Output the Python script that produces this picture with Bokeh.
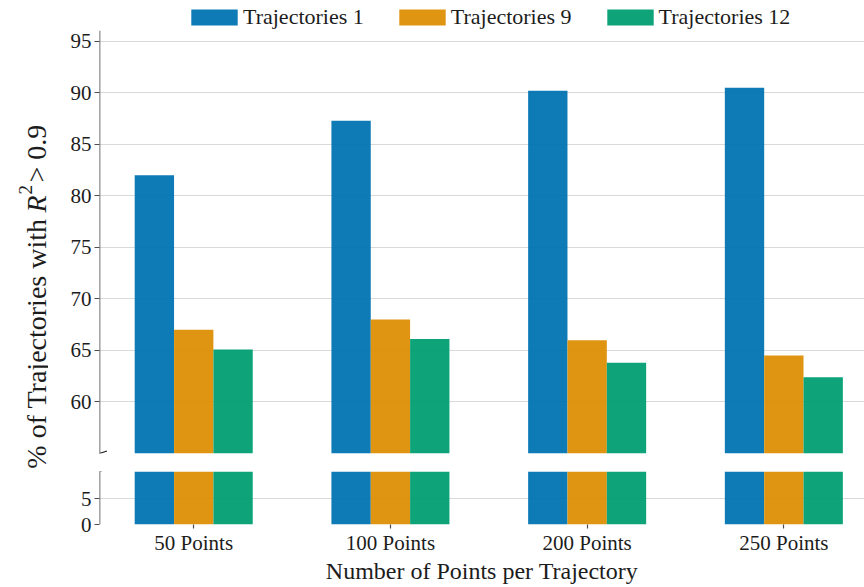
import math
from bokeh.plotting import figure
from bokeh.models import (ColumnDataSource, Range1d, FixedTicker, Legend, LegendItem,
                          Arrow, Label, Span)
from bokeh.layouts import row, column
from bokeh.transform import dodge
from bokeh.embed import file_html
from bokeh.resources import INLINE

# ---------------- data ----------------
categories = ["50 Points", "100 Points", "200 Points", "250 Points"]
series_names = ["Trajectories 1", "Trajectories 9", "Trajectories 12"]
traj1 = [82.0, 87.3, 90.2, 90.5]
traj9 = [67.0, 68.0, 66.0, 64.5]
traj12 = [65.1, 66.1, 63.8, 62.4]
top_ticks = [60, 65, 70, 75, 80, 85, 90, 95]
bottom_ticks = [0, 5]
x_title = "Number of Points per Trajectory"

# ---------------- style ----------------
colors = ["#0173B2", "#DE8F05", "#029E73"]
FONT = "Liberation Serif"
TXT = "#1c1c1c"
GRID = "#d9d9d9"
SPINE = "#4d4d4d"

x_lo, x_hi = -0.479, 3.41
top_lo, top_hi = 55, 96.05
bot_lo, bot_hi = 0, 10.25
offsets = [-0.2, 0.0, 0.2]
bar_w = 0.2

src = ColumnDataSource(dict(x=list(range(len(categories))), t1=traj1, t9=traj9, t12=traj12))
cols = ["t1", "t9", "t12"]

LAB_W = 48
MAIN_W = 816
LEFT = 51
LEG_H = 30
TOP_FRAME = 423
TOP_H = TOP_FRAME + 9
BOT_FRAME = 53
BODY_H = 587 - LEG_H


def bare(width, height, xr, yr):
    f = figure(width=width, height=height, x_range=xr, y_range=yr,
               x_axis_location=None, y_axis_location=None, title_location=None,
               output_backend="svg", toolbar_location=None, min_border=0)
    f.outline_line_color = None
    f.grid.visible = False
    f.background_fill_color = "white"
    f.border_fill_color = "white"
    return f


def base_style(p):
    p.outline_line_color = None
    p.background_fill_color = "white"
    p.border_fill_color = "white"
    p.xgrid.visible = False
    p.ygrid.grid_line_color = GRID
    p.ygrid.grid_line_width = 1.2
    ax = p.yaxis[0]
    ax.axis_line_color = None          # spine drawn as a Span limited to the frame
    ax.major_tick_line_color = SPINE
    ax.major_tick_line_width = 1.2
    ax.major_tick_out = 5
    ax.major_tick_in = 0
    ax.minor_tick_line_color = None
    ax.major_label_text_font = FONT
    ax.major_label_text_font_size = "21px"
    ax.major_label_text_color = TXT
    ax.major_label_standoff = 3
    p.add_layout(Span(location=x_lo, dimension="height", line_color=SPINE, line_width=1.6))


def add_bars(p):
    out = []
    for c, off, colr in zip(cols, offsets, colors):
        out.append(p.vbar(x=dodge("x", off), top=c, bottom=0, width=bar_w, source=src,
                          fill_color=colr, fill_alpha=0.95, line_color=None))
    return out


# ---------------- legend strip (full width, above everything) ----------------
pleg = bare(LAB_W + MAIN_W, LEG_H, Range1d(10, 11), Range1d(200, 201))
leg_renderers = add_bars(pleg)   # same bars, outside the strip's ranges: they only feed the legend
legend = Legend(items=[LegendItem(label=n, renderers=[r]) for n, r in zip(series_names, leg_renderers)],
                orientation="horizontal", location=(185, 0),
                glyph_width=58, glyph_height=20, label_standoff=-4, spacing=29,
                padding=0, margin=0, border_line_color=None, background_fill_alpha=0,
                label_text_font=FONT, label_text_font_size="22px", label_text_color=TXT,
                label_height=26)
pleg.add_layout(legend, "center")

# ---------------- top panel ----------------
p1 = figure(width=MAIN_W, height=TOP_H, x_range=Range1d(x_lo, x_hi),
            y_range=Range1d(top_lo, top_hi), x_axis_location=None, title_location=None,
            output_backend="svg", toolbar_location=None,
            min_border_left=LEFT, min_border_right=0, min_border_top=0, min_border_bottom=9)
base_style(p1)
p1.yaxis.ticker = FixedTicker(ticks=top_ticks)
add_bars(p1)

# ---------------- bottom panel ----------------
p2 = figure(width=MAIN_W, frame_height=BOT_FRAME, x_range=p1.x_range,
            y_range=Range1d(bot_lo, bot_hi), title_location=None,
            output_backend="svg", toolbar_location=None,
            min_border_left=LEFT, min_border_right=0, min_border_top=9,
            min_border_bottom=0)
base_style(p2)
p2.yaxis.ticker = FixedTicker(ticks=bottom_ticks)
add_bars(p2)

xa = p2.xaxis[0]
xa.ticker = FixedTicker(ticks=list(range(len(categories))))
xa.major_label_overrides = {i: c for i, c in enumerate(categories)}
xa.axis_line_color = None
xa.major_tick_line_color = SPINE
xa.major_tick_line_width = 1.2
xa.major_tick_out = 4
xa.major_tick_in = 0
xa.minor_tick_line_color = None
xa.major_label_text_font = FONT
xa.major_label_text_font_size = "21px"
xa.major_label_text_color = TXT
xa.major_label_standoff = 2
xa.axis_label = x_title
xa.axis_label_text_font = FONT
xa.axis_label_text_font_size = "24px"
xa.axis_label_text_font_style = "normal"
xa.axis_label_text_color = TXT
xa.axis_label_standoff = 0

# ---------------- break marks ----------------
dx = 7.5 / (765 / (x_hi - x_lo))
dy_top = 2.5 / (TOP_FRAME / (top_hi - top_lo))
dy_bot = 2.5 / (BOT_FRAME / (bot_hi - bot_lo))
p1.add_layout(Arrow(start=None, end=None, x_start=x_lo - dx, y_start=top_lo - dy_top,
                    x_end=x_lo + dx, y_end=top_lo + dy_top, line_color="#222222", line_width=1.2))
p2.add_layout(Arrow(start=None, end=None, x_start=x_lo - dx, y_start=bot_hi - dy_bot,
                    x_end=x_lo + dx, y_end=bot_hi + dy_bot, line_color="#222222", line_width=1.2))

# ---------------- y label (spans both panels) ----------------
pl = bare(LAB_W, BODY_H, Range1d(0, LAB_W), Range1d(0, BODY_H))
ang = math.pi / 2
bx = 36
ysz = "28px"
pl.add_layout(Label(x=bx, y=587 - 218, text="% of Trajectories with", angle=ang,
                    text_align="right", text_baseline="alphabetic", text_font=FONT,
                    text_font_size=ysz, text_color=TXT))
pl.add_layout(Label(x=bx, y=587 - 212, text="R", angle=ang, text_align="left",
                    text_baseline="alphabetic", text_font=FONT, text_font_style="italic",
                    text_font_size=ysz, text_color=TXT))
pl.add_layout(Label(x=bx - 11, y=587 - 194, text="2", angle=ang, text_align="left",
                    text_baseline="alphabetic", text_font=FONT,
                    text_font_size="19px", text_color=TXT))
pl.add_layout(Label(x=bx, y=587 - 182, text="> 0.9", angle=ang, text_align="left",
                    text_baseline="alphabetic", text_font=FONT,
                    text_font_size=ysz, text_color=TXT))

layout = column(pleg, row(pl, column(p1, p2, spacing=0), spacing=0), spacing=0)

with open("out.html", "w") as f:
    f.write(file_html(layout, INLINE))
